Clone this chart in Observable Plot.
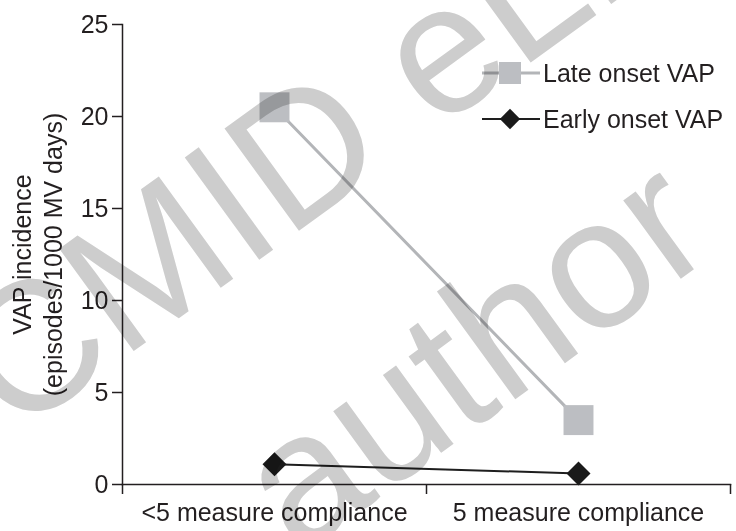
<!DOCTYPE html>
<html>
<head>
<meta charset="utf-8">
<script src="https://cdn.jsdelivr.net/npm/d3@7"></script>
<script src="https://cdn.jsdelivr.net/npm/@observablehq/plot@0.6"></script>
<style>
  html, body { margin: 0; padding: 0; background: #fff; }
  #chart svg { display: block; }
</style>
</head>
<body>
<div id="chart"></div>
<script>
// Categories on the x axis
const categories = ["<5 measure compliance", "5 measure compliance"];
// VAP incidence (episodes/1000 MV days) per compliance group
const lateOnset = [20.5, 3.5];
const earlyOnset = [1.1, 0.6];
const seriesNames = ["Late onset VAP", "Early onset VAP"];
const yTicks = [0, 5, 10, 15, 20, 25];
const yLabel = "VAP incidence\n(episodes/1000 MV days)";
const watermark = ["CMID eLi", "author"];

const late = categories.map((c, i) => ({cat: c, value: lateOnset[i]}));
const early = categories.map((c, i) => ({cat: c, value: earlyOnset[i]}));

const ink = "#231f20";
const lateFill = "#bcbec2";
const lateLine = "#b3b5b8";
const earlyFill = "#1a1a1a";
const font = "'Liberation Sans', Arial, Helvetica, sans-serif";

const width = 736, height = 531;
const marginLeft = 122, marginRight = 6;
const halfBand = (width - marginLeft - marginRight) / categories.length / 2;

const chart = Plot.plot({
  width, height,
  marginLeft, marginRight, marginTop: 24, marginBottom: 47,
  style: {fontFamily: font, fontSize: "25px", color: ink, background: "#fff"},
  x: {type: "band", domain: categories, padding: 0, label: null},
  y: {domain: [0, 25], label: null},
  marks: [
    Plot.axisY(yTicks, {tickSize: 10, tickPadding: 4, fontSize: 25, stroke: ink, strokeWidth: 1.5, label: null}),
    Plot.axisX({tickSize: 0, tickPadding: 19, fontSize: 25, label: null}),
    Plot.axisX({tickSize: 10, tickFormat: () => "", dx: -halfBand, stroke: ink, strokeWidth: 1.5, label: null}),
    Plot.axisX([categories[categories.length - 1]], {tickSize: 10, tickFormat: () => "", dx: halfBand, stroke: ink, strokeWidth: 1.5, label: null}),
    Plot.frame({anchor: "left", stroke: ink, strokeWidth: 1.5}),
    Plot.frame({anchor: "bottom", stroke: ink, strokeWidth: 1.5}),
    Plot.lineY(late, {x: "cat", y: "value", stroke: lateLine, strokeWidth: 3}),
    Plot.lineY(early, {x: "cat", y: "value", stroke: "#1e1e1e", strokeWidth: 2}),
    Plot.dot(late, {x: "cat", y: "value", symbol: "square", r: 16.9, fill: lateFill, stroke: null}),
    Plot.dot(early, {x: "cat", y: "value", symbol: "diamond2", r: 10.8, fill: earlyFill, stroke: null}),
    Plot.text([yLabel], {frameAnchor: "left", textAnchor: "middle", lineAnchor: "middle", rotate: -90, dx: -86, lineHeight: 1.24, fontSize: 25, fill: ink})
  ]
});

document.getElementById("chart").appendChild(chart);

// Legend in the upper right
const svg = d3.select(chart);
const legend = svg.append("g")
  .attr("font-family", font).attr("font-size", 25).attr("fill", ink).attr("text-anchor", "start");
const legendItems = [
  {name: seriesNames[0], symbol: d3.symbolSquare, size: 22 * 22, fill: lateFill, stroke: lateLine, sw: 3, y: 73},
  {name: seriesNames[1], symbol: d3.symbolDiamond2, size: 2 * 11.5 * 11.5, fill: earlyFill, stroke: "#1e1e1e", sw: 2, y: 119}
];
for (const it of legendItems) {
  const g = legend.append("g").attr("transform", `translate(0,${it.y})`);
  g.append("line").attr("x1", 482).attr("x2", 540).attr("y1", 0).attr("y2", 0)
    .attr("stroke", it.stroke).attr("stroke-width", it.sw);
  g.append("path").attr("transform", "translate(510,0)")
    .attr("d", d3.symbol(it.symbol, it.size)()).attr("fill", it.fill);
  g.append("text").attr("x", 543).attr("dy", "0.36em").text(it.name);
}

// Publisher watermark, multiplied over the chart
const wm = svg.append("g")
  .style("mix-blend-mode", "multiply")
  .attr("fill", "#cdcdcd")
  .attr("font-family", font)
  .attr("font-size", 184)
  .attr("text-anchor", "start");
wm.append("text").attr("transform", "translate(14,438) rotate(-36)").text(watermark[0]);
wm.append("text").attr("transform", "translate(298,557) rotate(-36)").text(watermark[1]);
</script>
</body>
</html>
